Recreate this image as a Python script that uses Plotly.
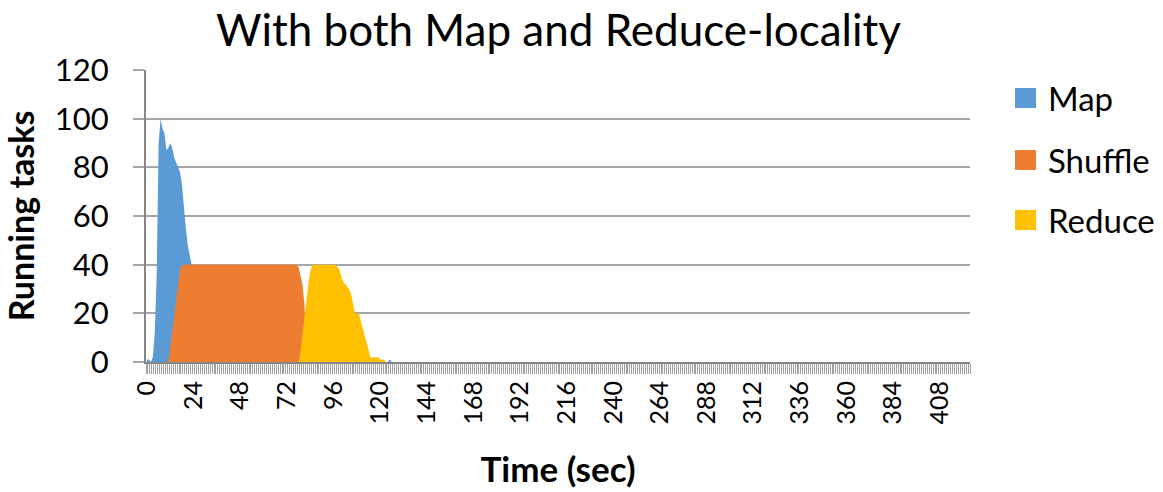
import plotly.graph_objects as go

N_CATEGORIES = 424
time_sec = list(range(N_CATEGORIES))

map_active = [1, 1, 0, 2, 12, 36, 90, 100, 96, 94, 87, 88, 90, 88, 84, 82, 80, 78, 73, 63,
              55, 48, 44, 40, 34, 26, 18, 10, 4, 0]
map_late = {125: 1}

shuffle_active = [0] * 12 + [6, 13, 19, 26, 32, 38] + [40] * 60 + [39, 36, 32, 24, 5, 0]

reduce_active = [0] * 78 + [0, 4, 12, 18, 25, 32, 37] + [40] * 13 + \
    [39, 38, 35, 33, 32, 31, 30, 28, 24, 20, 20, 20, 17, 14, 11, 9, 5, 2, 2, 2, 2, 2, 1, 1, 1, 0]

tick_vals = list(range(0, 409, 24))
y_ticks = [0, 20, 40, 60, 80, 100, 120]

series_names = ["Map", "Shuffle", "Reduce"]
colors = ["#5B9BD5", "#ED7D31", "#FFC000"]
title_text = "With both Map and Reduce-locality"


def pad(vals):
    return list(vals) + [0] * (N_CATEGORIES - len(vals))


map_vals = pad(map_active)
for k, v in map_late.items():
    map_vals[k] = v
shuffle_vals = pad(shuffle_active)
reduce_vals = pad(reduce_active)

FONT = "Lato"
NARROW = "Liberation Sans Narrow, Lato"
W, H = 1163, 492
ML, MT, PW, PH = 146, 70, 824, 292


def px(xf):
    return (xf - ML) / PW


def py(yf):
    return (MT + PH - yf) / PH


fig = go.Figure()
for name, vals, col in zip(series_names, [map_vals, shuffle_vals, reduce_vals], colors):
    fig.add_trace(go.Scatter(x=time_sec, y=vals, name=name, mode="lines",
                             line=dict(width=0, color=col), fill="tozeroy",
                             fillcolor=col, showlegend=False, hoverinfo="x+y+name"))

fig.update_layout(
    width=W, height=H,
    margin=dict(l=ML, r=W - ML - PW, t=MT, b=H - MT - PH, autoexpand=False),
    paper_bgcolor="white", plot_bgcolor="white",
    font=dict(family=FONT, color="black"),
    xaxis=dict(range=[-0.5, N_CATEGORIES - 0.5], tickmode="array", tickvals=tick_vals,
               ticktext=[str(v) for v in tick_vals], tickangle=-90,
               tickfont=dict(size=25, family=NARROW), ticks="", showgrid=False,
               ticklabelstandoff=7,
               showline=True, linecolor="#868686", linewidth=2,
               minor=dict(ticks="outside", tick0=-0.5, dtick=1, ticklen=10,
                          tickcolor="#A0A0A0", tickwidth=1, showgrid=False),
               title=dict(text="<b>Time (sec)</b>", font=dict(size=35, family=FONT), standoff=34),
               zeroline=False),
    yaxis=dict(range=[0, 120], tickvals=y_ticks, tickfont=dict(size=31, family=FONT),
               ticks="outside", ticklen=11, tickcolor="#A6A6A6", tickwidth=1.5,
               ticklabelstandoff=18,
               showgrid=True, gridcolor="#A6A6A6", gridwidth=1.5,
               showline=True, linecolor="#868686", linewidth=2, zeroline=False,
               title=dict(text="<b>Running tasks</b>", font=dict(size=34, family=FONT), standoff=13)),
)

fig.add_annotation(text=title_text, xref="paper", yref="paper", x=0.5, y=py(29),
                   xanchor="center", yanchor="middle", showarrow=False,
                   font=dict(size=44, family=FONT, color="black"))

# legend drawn as swatches and labels
leg_y = [98, 160, 220]
for name, col, yf in zip(series_names, colors, leg_y):
    fig.add_shape(type="rect", xref="paper", yref="paper",
                  x0=px(1015), x1=px(1036), y0=py(yf + 10), y1=py(yf - 10),
                  fillcolor=col, line=dict(width=0))
    fig.add_annotation(text=name, xref="paper", yref="paper",
                       x=px(1046), y=py(yf), xanchor="left", yanchor="middle",
                       showarrow=False, font=dict(size=33, family=FONT, color="black"))

fig.write_html("out.html", config={"displayModeBar": False},
               post_script="document.body.style.margin='0';document.body.style.overflow='hidden';")
